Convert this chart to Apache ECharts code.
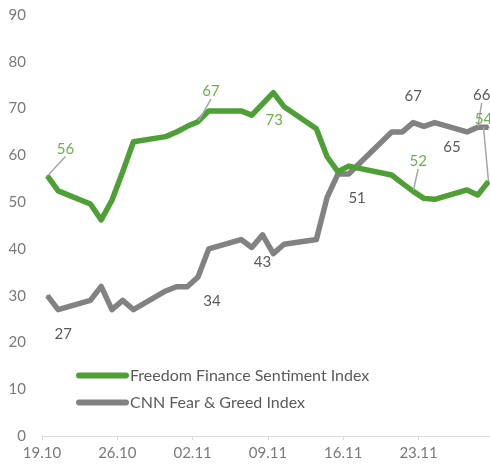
<!DOCTYPE html>
<html>
<head>
<meta charset="utf-8">
<script src="https://cdn.jsdelivr.net/npm/echarts@6/dist/echarts.min.js"></script>
<style>html,body{margin:0;padding:0;background:#fff}#c{width:490px;height:465px}</style>
</head>
<body>
<div id="c"></div>
<script>
// ---- data ----
var startDate = '19.10';
var dates = ['19.10','20.10','23.10','24.10','25.10','26.10','27.10','30.10','31.10','01.11','02.11','03.11','06.11','07.11','08.11','09.11','10.11','13.11','14.11','15.11','16.11','20.11','21.11','22.11','23.11','24.11','27.11','28.11','29.11'];
var freedomIndex = [55.6,52.4,49.6,46.2,50.4,56.5,62.9,64.0,65.0,66.2,67.2,69.5,69.5,68.6,71.0,73.4,70.4,65.7,59.7,56.5,57.7,55.8,54.0,52.3,50.8,50.6,52.6,51.5,54.4];
var cnnIndex     = [30,27,29,32,27,29,27,31,31.9,31.9,34,40,42,40.3,43,39,41,42,51,56,56,65,65,67,66.2,67,65,66,66];
var tickLabels = ['19.10','26.10','02.11','09.11','16.11','23.11'];
var seriesNames = ['Freedom Finance Sentiment Index','CNN Fear & Greed Index'];
// dates that carry a value label
var freedomLabelled = ['19.10','02.11','09.11','22.11','29.11'];
var cnnLabelled = ['20.10','02.11','08.11','14.11','22.11','27.11','28.11'];

// ---- layout (label offsets in px) ----
var freedomOffsets = {'19.10':[18,-27,true],'02.11':[13,-30,true],'09.11':[1,28,false],'22.11':[5,-30,true],'29.11':[-5,-62,true]};
var cnnOffsets = {'20.10':[5,24,false],'02.11':[14,24,false],'08.11':[0,27,false],'14.11':[30,1,false],'22.11':[0,-26,false],'27.11':[-15,15,false],'28.11':[4,-32,true]};

function dayOffset(s){
  var p = s.split('.'), q = startDate.split('.');
  var a = Date.UTC(2020, +p[1]-1, +p[0]), b = Date.UTC(2020, +q[1]-1, +q[0]);
  return Math.round((a-b)/86400000);
}
var GREEN = '#4f9f37', GREEN_T = '#6eb04c', GREY = '#828282', GREY_T = '#5a5a5a';
var FONT = 'Lato';

function build(values, labelled, offsets){
  return dates.map(function(d,i){
    var item = {value:[dayOffset(d)+0.5, values[i]], name:d};
    if (labelled.indexOf(d) >= 0) {
      item.label = {show:true};
      item.labelLine = {show: !!offsets[d][2]};
    }
    return item;
  });
}
function layoutFn(offsets){
  return function(params){
    var d = dates[params.dataIndex];
    var o = offsets[d];
    if (!o) return {};
    return {dx:o[0], dy:o[1]};
  };
}

var chart = echarts.init(document.getElementById('c'), null, {renderer:'canvas'});
chart.setOption({
  animation:false,
  backgroundColor:'#ffffff',
  grid:{left:42, right:0, top:15, bottom:29, containLabel:false},
  xAxis:{
    type:'value', min:0, max:41.64, interval:7,
    axisLine:{show:true, lineStyle:{color:'#d9d9d9', width:1}},
    axisTick:{show:true, length:4, lineStyle:{color:'#d9d9d9'}},
    splitLine:{show:false},
    axisLabel:{color:'#7a7a7a', fontFamily:FONT, fontSize:15, margin:10,
      showMaxLabel:false,
      formatter:function(v){ var k = Math.round(v/7); return (Math.abs(v-k*7)<1e-6 && tickLabels[k]) ? tickLabels[k] : ''; }}
  },
  yAxis:{
    type:'value', min:0, max:90, interval:10,
    axisLine:{show:false}, axisTick:{show:false}, splitLine:{show:false},
    axisLabel:{color:'#7a7a7a', fontFamily:FONT, fontSize:15, margin:16}
  },
  legend:{
    orient:'vertical', left:71, top:362, itemWidth:53, itemHeight:6, itemGap:10,
    icon:'path://M3,0 L50,0 A3,3 0 0 1 50,6 L3,6 A3,3 0 0 1 3,0 Z',
    textStyle:{color:'#5a5a5a', fontFamily:FONT, fontSize:16, lineHeight:17, padding:[0,0,0,-4]},
    data:seriesNames
  },
  series:[
    {
      name:seriesNames[1], type:'line', data:build(cnnIndex, cnnLabelled, cnnOffsets),
      showSymbol:true, showAllSymbol:true, symbol:'circle', symbolSize:2,
      itemStyle:{color:GREY}, lineStyle:{color:GREY, width:5.5, join:'round'},
      label:{show:false, position:'inside', color:GREY_T, fontFamily:FONT, fontSize:15,
        formatter:function(p){return Math.round(p.value[1]);}},
      labelLine:{show:false, lineStyle:{color:'#a6a6a6', width:1.5}},
      labelLayout:layoutFn(cnnOffsets),
      z:2
    },
    {
      name:seriesNames[0], type:'line', data:build(freedomIndex, freedomLabelled, freedomOffsets),
      showSymbol:true, showAllSymbol:true, symbol:'circle', symbolSize:2,
      itemStyle:{color:GREEN}, lineStyle:{color:GREEN, width:5.5, join:'round'},
      label:{show:false, position:'inside', color:GREEN_T, fontFamily:FONT, fontSize:15,
        formatter:function(p){return Math.round(p.value[1]);}},
      labelLine:{show:false, lineStyle:{color:'#a6a6a6', width:1.5}},
      labelLayout:layoutFn(freedomOffsets),
      z:3
    }
  ]
});
</script>
</body>
</html>
